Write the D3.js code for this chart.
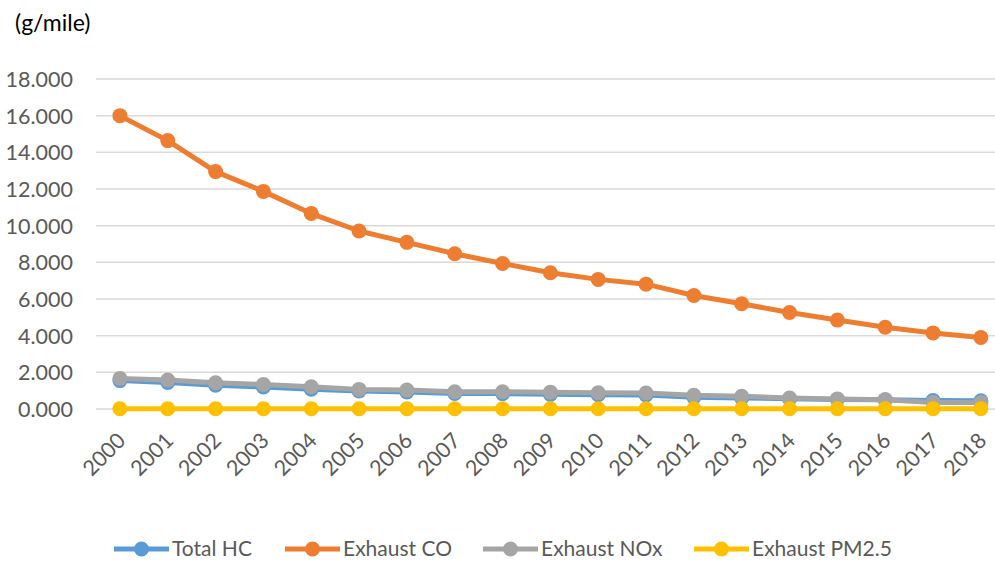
<!DOCTYPE html>
<html>
<head>
<meta charset="utf-8">
<script src="https://cdn.jsdelivr.net/npm/d3@7"></script>
<style>
  body { margin: 0; background: #fff; }
  text { font-family: Lato, "Open Sans", sans-serif; fill: #595959; }
</style>
</head>
<body>
<div id="chart"></div>
<script>
// emission factors per model year (g/mile)
var years = ["2000","2001","2002","2003","2004","2005","2006","2007","2008","2009",
             "2010","2011","2012","2013","2014","2015","2016","2017","2018"];
var totalHC   = [1.55,1.45,1.30,1.20,1.08,0.98,0.93,0.85,0.84,0.80,0.78,0.76,0.64,0.60,0.56,0.52,0.50,0.47,0.45];
var exhaustCO = [16.00,14.64,12.95,11.87,10.66,9.71,9.09,8.47,7.94,7.43,7.07,6.81,6.19,5.74,5.26,4.85,4.46,4.15,3.90];
var exhaustNOx = [1.67,1.58,1.43,1.34,1.21,1.07,1.03,0.94,0.94,0.92,0.89,0.87,0.75,0.69,0.60,0.55,0.51,0.35,0.35];
var exhaustPM = [0.01,0.01,0.01,0.01,0.01,0.01,0.01,0.01,0.01,0.01,0.01,0.01,0.01,0.01,0.01,0.01,0.01,0.01,0.01];
var seriesNames = ["Total HC", "Exhaust CO", "Exhaust NOx", "Exhaust PM2.5"];
var yTicks = [0, 2, 4, 6, 8, 10, 12, 14, 16, 18];

var w = 995, h = 563;
var colors = d3.scaleOrdinal()
    .domain(seriesNames)
    .range(["#5B9BD5", "#ED7D31", "#A5A5A5", "#FFC000"]);

var series = [
  {name: "Total HC", values: totalHC},
  {name: "Exhaust CO", values: exhaustCO},
  {name: "Exhaust NOx", values: exhaustNOx},
  {name: "Exhaust PM2.5", values: exhaustPM}
];

var svg = d3.select("#chart").append("svg")
    .attr("width", w)
    .attr("height", h);

var xScale = d3.scaleBand()
    .domain(years)
    .range([96, 96 + 19 * 47.83]);
var xc = d => xScale(d) + xScale.bandwidth() / 2;

var yScale = d3.scaleLinear()
    .domain([0, 18])
    .range([409, 79]);

// gridlines
svg.append("g").selectAll("line")
    .data(yTicks)
    .enter()
    .append("line")
    .attr("x1", 96)
    .attr("x2", w)
    .attr("y1", d => yScale(d))
    .attr("y2", d => yScale(d))
    .attr("stroke", "#d9d9d9")
    .attr("stroke-width", 1.5);

// y axis labels
var yAxis = d3.axisLeft(yScale)
    .tickValues(yTicks)
    .tickFormat(d3.format(".3f"))
    .tickSize(0)
    .tickPadding(0);
svg.append("g")
    .attr("transform", "translate(73,0)")
    .call(yAxis)
    .call(g => g.select(".domain").remove())
    .selectAll("text")
    .style("font-size", "21.5px")
    .attr("fill", "#595959")
    .attr("dy", "0.35em");

// x axis labels, rotated
var xAxis = d3.axisBottom(xScale).tickSize(0).tickPadding(0);
svg.append("g")
    .attr("transform", "translate(0,409)")
    .call(xAxis)
    .call(g => g.select(".domain").remove())
    .selectAll("text")
    .style("font-size", "21.5px")
    .attr("fill", "#595959")
    .attr("text-anchor", "end")
    .attr("dy", 0)
    .attr("y", 0)
    .attr("transform", "translate(7,33) rotate(-45)");

// unit label
svg.append("text")
    .attr("x", 15)
    .attr("y", 31)
    .style("font-size", "23px")
    .style("fill", "#000")
    .text("(g/mile)");

var line = d3.line()
    .x((d, i) => xc(years[i]))
    .y(d => yScale(d));

series.forEach(s => {
    var g = svg.append("g").attr("class", "series");
    g.append("path")
        .attr("d", line(s.values))
        .attr("fill", "none")
        .attr("stroke", colors(s.name))
        .attr("stroke-width", 5)
        .attr("stroke-linejoin", "round");
    g.selectAll("circle")
        .data(s.values)
        .enter()
        .append("circle")
        .attr("cx", (d, i) => xc(years[i]))
        .attr("cy", d => yScale(d))
        .attr("r", 7.5)
        .attr("fill", colors(s.name));
});

// legend
var legendX = [114, 285, 483, 694];
var legend = svg.append("g").attr("transform", "translate(0,549)");
seriesNames.forEach((name, i) => {
    var item = legend.append("g").attr("transform", `translate(${legendX[i]},0)`);
    item.append("line")
        .attr("x1", 0).attr("x2", 55)
        .attr("y1", 0).attr("y2", 0)
        .attr("stroke", colors(name))
        .attr("stroke-width", 5);
    item.append("circle")
        .attr("cx", 27.5).attr("cy", 0).attr("r", 7.5)
        .attr("fill", colors(name));
    item.append("text")
        .attr("x", 58)
        .attr("y", 0)
        .attr("dy", "0.35em")
        .style("font-size", "21px")
        .text(name);
});
</script>
</body>
</html>
